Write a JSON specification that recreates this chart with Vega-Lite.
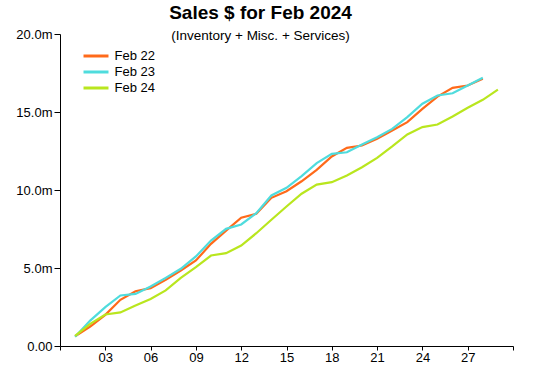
{
  "$schema": "https://vega.github.io/schema/vega-lite/v6.json",
  "width": 453,
  "height": 312,
  "autosize": {"type": "none"},
  "padding": {"left": 60, "top": 34, "right": 20, "bottom": 27},
  "background": "white",
  "config": {
    "font": "Liberation Sans",
    "view": {"stroke": null}
  },
  "title": {
    "text": "Sales $ for Feb 2024",
    "subtitle": "(Inventory + Misc. + Services)",
    "anchor": "middle",
    "dx": -26,
    "offset": -14,
    "fontSize": 19,
    "fontWeight": "bold",
    "color": "black",
    "subtitleFontSize": 13.5,
    "subtitleColor": "black",
    "subtitlePadding": 6,
    "font": "Liberation Sans",
    "subtitleFont": "Liberation Sans"
  },
  "data": {
    "values": [
      {"day": 1, "series": "Feb 22", "sales": 0.62},
      {"day": 2, "series": "Feb 22", "sales": 1.25},
      {"day": 3, "series": "Feb 22", "sales": 2.0},
      {"day": 4, "series": "Feb 22", "sales": 2.96},
      {"day": 5, "series": "Feb 22", "sales": 3.51},
      {"day": 6, "series": "Feb 22", "sales": 3.71},
      {"day": 7, "series": "Feb 22", "sales": 4.24},
      {"day": 8, "series": "Feb 22", "sales": 4.84},
      {"day": 9, "series": "Feb 22", "sales": 5.48},
      {"day": 10, "series": "Feb 22", "sales": 6.55},
      {"day": 11, "series": "Feb 22", "sales": 7.4},
      {"day": 12, "series": "Feb 22", "sales": 8.22},
      {"day": 13, "series": "Feb 22", "sales": 8.47},
      {"day": 14, "series": "Feb 22", "sales": 9.5},
      {"day": 15, "series": "Feb 22", "sales": 9.92},
      {"day": 16, "series": "Feb 22", "sales": 10.56},
      {"day": 17, "series": "Feb 22", "sales": 11.29},
      {"day": 18, "series": "Feb 22", "sales": 12.15},
      {"day": 19, "series": "Feb 22", "sales": 12.7},
      {"day": 20, "series": "Feb 22", "sales": 12.85},
      {"day": 21, "series": "Feb 22", "sales": 13.28},
      {"day": 22, "series": "Feb 22", "sales": 13.81},
      {"day": 23, "series": "Feb 22", "sales": 14.35},
      {"day": 24, "series": "Feb 22", "sales": 15.2},
      {"day": 25, "series": "Feb 22", "sales": 15.99},
      {"day": 26, "series": "Feb 22", "sales": 16.55},
      {"day": 27, "series": "Feb 22", "sales": 16.7},
      {"day": 28, "series": "Feb 22", "sales": 17.13},
      {"day": 1, "series": "Feb 23", "sales": 0.6},
      {"day": 2, "series": "Feb 23", "sales": 1.63},
      {"day": 3, "series": "Feb 23", "sales": 2.49},
      {"day": 4, "series": "Feb 23", "sales": 3.24},
      {"day": 5, "series": "Feb 23", "sales": 3.34},
      {"day": 6, "series": "Feb 23", "sales": 3.81},
      {"day": 7, "series": "Feb 23", "sales": 4.37},
      {"day": 8, "series": "Feb 23", "sales": 4.95},
      {"day": 9, "series": "Feb 23", "sales": 5.74},
      {"day": 10, "series": "Feb 23", "sales": 6.76},
      {"day": 11, "series": "Feb 23", "sales": 7.51},
      {"day": 12, "series": "Feb 23", "sales": 7.79},
      {"day": 13, "series": "Feb 23", "sales": 8.51},
      {"day": 14, "series": "Feb 23", "sales": 9.65},
      {"day": 15, "series": "Feb 23", "sales": 10.14},
      {"day": 16, "series": "Feb 23", "sales": 10.89},
      {"day": 17, "series": "Feb 23", "sales": 11.72},
      {"day": 18, "series": "Feb 23", "sales": 12.32},
      {"day": 19, "series": "Feb 23", "sales": 12.42},
      {"day": 20, "series": "Feb 23", "sales": 12.92},
      {"day": 21, "series": "Feb 23", "sales": 13.38},
      {"day": 22, "series": "Feb 23", "sales": 13.92},
      {"day": 23, "series": "Feb 23", "sales": 14.67},
      {"day": 24, "series": "Feb 23", "sales": 15.53},
      {"day": 25, "series": "Feb 23", "sales": 16.06},
      {"day": 26, "series": "Feb 23", "sales": 16.2},
      {"day": 27, "series": "Feb 23", "sales": 16.7},
      {"day": 28, "series": "Feb 23", "sales": 17.19},
      {"day": 1, "series": "Feb 24", "sales": 0.65},
      {"day": 2, "series": "Feb 24", "sales": 1.42},
      {"day": 3, "series": "Feb 24", "sales": 2.02},
      {"day": 4, "series": "Feb 24", "sales": 2.15},
      {"day": 5, "series": "Feb 24", "sales": 2.6},
      {"day": 6, "series": "Feb 24", "sales": 3.02},
      {"day": 7, "series": "Feb 24", "sales": 3.56},
      {"day": 8, "series": "Feb 24", "sales": 4.37},
      {"day": 9, "series": "Feb 24", "sales": 5.05},
      {"day": 10, "series": "Feb 24", "sales": 5.8},
      {"day": 11, "series": "Feb 24", "sales": 5.95},
      {"day": 12, "series": "Feb 24", "sales": 6.44},
      {"day": 13, "series": "Feb 24", "sales": 7.23},
      {"day": 14, "series": "Feb 24", "sales": 8.09},
      {"day": 15, "series": "Feb 24", "sales": 8.94},
      {"day": 16, "series": "Feb 24", "sales": 9.76},
      {"day": 17, "series": "Feb 24", "sales": 10.35},
      {"day": 18, "series": "Feb 24", "sales": 10.5},
      {"day": 19, "series": "Feb 24", "sales": 10.93},
      {"day": 20, "series": "Feb 24", "sales": 11.46},
      {"day": 21, "series": "Feb 24", "sales": 12.06},
      {"day": 22, "series": "Feb 24", "sales": 12.79},
      {"day": 23, "series": "Feb 24", "sales": 13.56},
      {"day": 24, "series": "Feb 24", "sales": 14.03},
      {"day": 25, "series": "Feb 24", "sales": 14.2},
      {"day": 26, "series": "Feb 24", "sales": 14.71},
      {"day": 27, "series": "Feb 24", "sales": 15.27},
      {"day": 28, "series": "Feb 24", "sales": 15.78},
      {"day": 29, "series": "Feb 24", "sales": 16.44}
    ]
  },
  "mark": {"type": "line", "strokeWidth": 2.2, "clip": false},
  "encoding": {
    "x": {
      "field": "day",
      "type": "quantitative",
      "scale": {"domain": [0, 30], "nice": false, "zero": false},
      "axis": {
        "title": null,
        "grid": false,
        "values": [0, 3, 6, 9, 12, 15, 18, 21, 24, 27, 30],
        "labelExpr": "datum.value == 0 || datum.value == 30 ? '' : format(datum.value, '02d')",
        "domainColor": "black",
        "tickColor": "black",
        "tickSize": 4,
        "labelPadding": 1,
        "labelFontSize": 13,
        "labelColor": "black",
        "labelFont": "Liberation Sans",
        "labelFlush": false
      }
    },
    "y": {
      "field": "sales",
      "type": "quantitative",
      "scale": {"domain": [0, 20], "nice": false},
      "axis": {
        "title": null,
        "grid": false,
        "values": [0, 5, 10, 15, 20],
        "labelExpr": "datum.value == 0 ? '0.00' : format(datum.value, '.1f') + 'm'",
        "domainColor": "black",
        "tickColor": "black",
        "tickSize": 6,
        "labelPadding": 2,
        "labelFontSize": 13,
        "labelColor": "black",
        "labelFont": "Liberation Sans",
        "labelFlush": false
      }
    },
    "color": {
      "field": "series",
      "type": "nominal",
      "scale": {
        "domain": ["Feb 22", "Feb 23", "Feb 24"],
        "range": ["#FF6A1A", "#4FDCDD", "#B9E61E"]
      },
      "legend": {
        "title": null,
        "orient": "none",
        "legendX": 28,
        "legendY": 14,
        "padding": 0,
        "symbolType": "M-2,0H2",
        "symbolSize": 156,
        "symbolStrokeWidth": 3,
        "rowPadding": 1,
        "labelOffset": 10.5,
        "labelFontSize": 13,
        "labelColor": "black",
        "labelFont": "Liberation Sans"
      }
    }
  }
}
